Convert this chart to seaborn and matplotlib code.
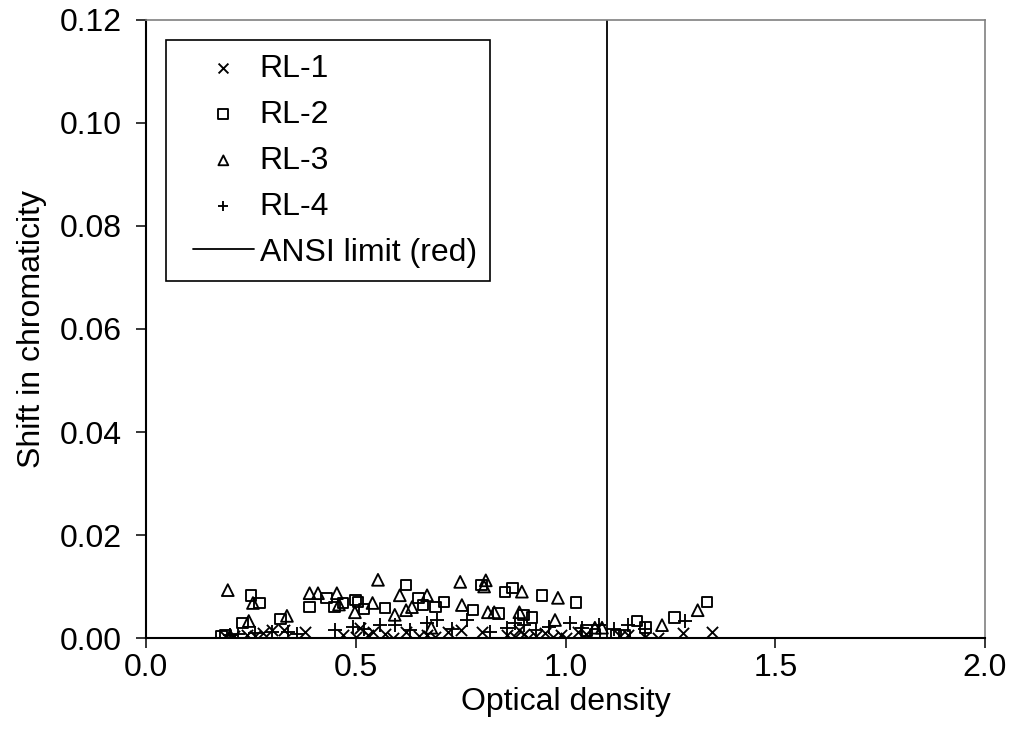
import numpy as np
import pandas as pd
import matplotlib
matplotlib.use("Agg")
import matplotlib.pyplot as plt
from matplotlib.legend_handler import HandlerLine2D, HandlerPathCollection
from matplotlib.collections import PathCollection
from matplotlib.lines import Line2D
import seaborn as sns

# ---- data ----
rl1_x = [0.19, 0.21, 0.24, 0.26, 0.28, 0.30, 0.33, 0.38, 0.47, 0.50, 0.51, 0.53, 0.54, 0.57, 0.59,
         0.62, 0.65, 0.67, 0.69, 0.72, 0.75, 0.80, 0.86, 0.88, 0.89, 0.90, 0.91, 0.93, 0.95, 0.97,
         0.99, 1.00, 1.03, 1.05, 1.13, 1.15, 1.19, 1.22, 1.28, 1.35]
rl1_y = [0.0002, 0.0004, 0.0006, 0.0003, 0.0010, 0.0015, 0.0016, 0.0012, 0.0006, 0.0002, 0.0020,
         0.0005, 0.0012, 0.0008, 0.0000, 0.0012, 0.0004, 0.0006, 0.0002, 0.0012, 0.0016, 0.0012,
         0.0006, 0.0002, 0.0015, 0.0008, 0.0000, 0.0004, 0.0010, 0.0002, 0.0006, 0.0001, 0.0012,
         0.0008, 0.0004, 0.0006, 0.0002, 0.0000, 0.0010, 0.0012]

rl2_x = [0.18, 0.19, 0.23, 0.25, 0.27, 0.32, 0.39, 0.43, 0.45, 0.47, 0.50, 0.505, 0.52, 0.57, 0.62,
         0.65, 0.66, 0.69, 0.71, 0.78, 0.80, 0.84, 0.856, 0.873, 0.90, 0.92, 0.944, 1.025, 1.05,
         1.07, 1.12, 1.14, 1.17, 1.19, 1.26, 1.337]
rl2_y = [0.0003, 0.0005, 0.0029, 0.0083, 0.0068, 0.0037, 0.0060, 0.0078, 0.0060, 0.0068, 0.0074,
         0.0070, 0.0056, 0.0058, 0.0103, 0.0078, 0.0064, 0.0060, 0.0070, 0.0054, 0.0103, 0.0048,
         0.0089, 0.0097, 0.0045, 0.0040, 0.0083, 0.0069, 0.0015, 0.0008, 0.0006, 0.0006, 0.0033,
         0.0020, 0.0040, 0.0070]

rl3_x = [0.195, 0.20, 0.245, 0.255, 0.336, 0.39, 0.41, 0.455, 0.46, 0.498, 0.54, 0.553, 0.593,
         0.605, 0.62, 0.634, 0.67, 0.68, 0.749, 0.753, 0.806, 0.81, 0.815, 0.83, 0.89, 0.896,
         0.975, 0.982, 1.07, 1.087, 1.23, 1.315]
rl3_y = [0.0093, 0.0003, 0.0033, 0.0068, 0.0043, 0.0087, 0.0087, 0.0087, 0.0065, 0.0050, 0.0068,
         0.0113, 0.0045, 0.0083, 0.0054, 0.0060, 0.0083, 0.0020, 0.0109, 0.0064, 0.0100, 0.0112,
         0.0050, 0.0050, 0.0050, 0.0090, 0.0035, 0.0078, 0.0020, 0.0020, 0.0025, 0.0054]

rl4_x = [0.20, 0.22, 0.26, 0.30, 0.338, 0.36, 0.45, 0.494, 0.52, 0.558, 0.593, 0.63, 0.67, 0.694,
         0.73, 0.765, 0.82, 0.86, 0.88, 0.90, 0.93, 0.96, 1.01, 1.04, 1.08, 1.115, 1.15, 1.19, 1.285]
rl4_y = [0.0006, 0.0008, 0.0010, 0.0012, 0.0012, 0.0008, 0.0015, 0.0022, 0.0018, 0.0025, 0.0025,
         0.0015, 0.0029, 0.0035, 0.0018, 0.0035, 0.0012, 0.0020, 0.0030, 0.0025, 0.0015, 0.0022,
         0.0030, 0.0020, 0.0025, 0.0017, 0.0025, 0.0018, 0.0033]

ANSI_LIMIT = 1.1
x_ticks = [0.0, 0.5, 1.0, 1.5, 2.0]
y_ticks = [0.00, 0.02, 0.04, 0.06, 0.08, 0.10, 0.12]

# ---- style ----
sns.set_style("white")
plt.rcParams["font.family"] = ["Liberation Sans", "DejaVu Sans"]
plt.rcParams["text.color"] = "black"
plt.rcParams["axes.labelcolor"] = "black"
plt.rcParams["xtick.color"] = "black"
plt.rcParams["ytick.color"] = "black"

FS = 23

fig = plt.figure(figsize=(10.13, 7.45), dpi=100)
ax = fig.add_axes([0.1441, 0.1436, 0.9724 - 0.1441, 0.9732 - 0.1436])

lw = 1.35
sns.scatterplot(x=rl1_x, y=rl1_y, marker="x", color="black", s=65, linewidth=lw,
                label="RL-1", ax=ax, zorder=3)
sns.scatterplot(x=rl2_x, y=rl2_y, marker="s", facecolor="none", edgecolor="black", s=58,
                linewidth=lw, label="RL-2", ax=ax, zorder=3)
sns.scatterplot(x=rl3_x, y=rl3_y, marker="^", facecolor="none", edgecolor="black", s=72,
                linewidth=lw, label="RL-3", ax=ax, zorder=3)
sns.scatterplot(x=rl4_x, y=rl4_y, marker="+", color="black", s=95, linewidth=lw,
                label="RL-4", ax=ax, zorder=3)
ax.axvline(ANSI_LIMIT, color="black", lw=1.3, label="ANSI limit (red)", zorder=2)

ax.set_xlim(0, 2.0)
ax.set_ylim(0, 0.12)
ax.set_xticks(x_ticks)
ax.set_yticks(y_ticks)
ax.set_xticklabels([f"{v:.1f}" for v in x_ticks])
ax.set_yticklabels([f"{v:.2f}" for v in y_ticks])
ax.tick_params(axis="both", direction="out", length=7.5, width=1.1, labelsize=FS,
               color="black", labelcolor="black", bottom=True, left=True)
ax.tick_params(axis="y", pad=10)
ax.tick_params(axis="x", pad=3)
ax.set_xlabel("Optical density", fontsize=FS, labelpad=3, color="black")
ax.set_ylabel("Shift in chromaticity", fontsize=FS, labelpad=9, color="black")

for side in ["left", "bottom"]:
    ax.spines[side].set_color("black")
    ax.spines[side].set_linewidth(1.5)
for side in ["top", "right"]:
    ax.spines[side].set_color("#808080")
    ax.spines[side].set_linewidth(1.2)
ax.spines["bottom"].set_zorder(4)

XPAD = 0.42
leg = ax.legend(loc="upper left", bbox_to_anchor=(0.0235, 0.967), fontsize=FS, frameon=True,
                fancybox=False, edgecolor="black", framealpha=1, borderpad=0.42,
                labelspacing=0.5, handlelength=2.35, handletextpad=0.17, borderaxespad=0,
                labelcolor="black",
                handler_map={PathCollection: HandlerPathCollection(xpad=XPAD),
                             Line2D: HandlerLine2D(xpad=XPAD)})
leg.get_frame().set_linewidth(1.2)
for h in leg.legend_handles[:4]:
    h.set_sizes([50])

fig.savefig("out.png", dpi=100)
